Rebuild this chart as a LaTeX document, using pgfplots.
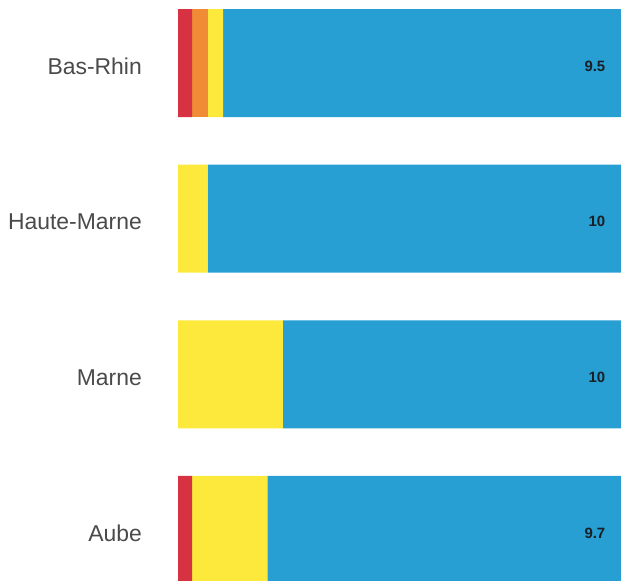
\documentclass[border=0pt]{standalone}
\usepackage{pgfplots}
\pgfplotsset{compat=1.18}
\usepackage{fontspec}
\setmainfont{Liberation Sans}
\definecolor{cred}{HTML}{D63241}
\definecolor{corange}{HTML}{F08C35}
\definecolor{cyellow}{HTML}{FDE93C}
\definecolor{cblue}{HTML}{279FD2}
\definecolor{labelgray}{HTML}{4A4A4A}
\definecolor{valblack}{HTML}{1A1F26}
\begin{document}
\begin{tikzpicture}
\useasboundingbox (0,0) rectangle (621bp,581bp);
\begin{axis}[
  at={(178bp,0bp)}, anchor=south west,
  scale only axis, width=443bp, height=581bp,
  xmin=0, xmax=100, ymin=-0.328, ymax=3.405,
  xbar stacked, bar width=108bp,
  axis line style={draw=none},
  xtick=\empty,
  ytick={0,1,2,3},
  yticklabels={Aube,Marne,Haute-Marne,Bas-Rhin},
  major tick length=0pt,
  yticklabel style={font=\fontsize{23}{27}\selectfont, text=labelgray, anchor=east, inner sep=0pt, xshift=-36bp, yshift=-3bp},
]
\addplot[fill=cred, draw=none] coordinates {(3.2,0) (0,1) (0,2) (3.2,3)};
\addplot[fill=corange, draw=none] coordinates {(0,0) (0,1) (0,2) (3.5,3)};
\addplot[fill=cyellow, draw=none] coordinates {(17.0,0) (23.7,1) (6.7,2) (3.5,3)};
\addplot[fill=cblue, draw=none] coordinates {(79.8,0) (76.3,1) (93.3,2) (89.8,3)};
\coordinate (v3) at (axis cs:100,3);
\coordinate (v2) at (axis cs:100,2);
\coordinate (v1) at (axis cs:100,1);
\coordinate (v0) at (axis cs:100,0);
\end{axis}
\tikzset{val/.style={anchor=east, font=\bfseries\fontsize{15}{17}\selectfont, text=valblack, inner sep=0pt, xshift=-15.5bp, yshift=-3bp}}
\node[val] at (v3) {9.5};
\node[val] at (v2) {10};
\node[val] at (v1) {10};
\node[val] at (v0) {9.7};
\end{tikzpicture}
\end{document}
